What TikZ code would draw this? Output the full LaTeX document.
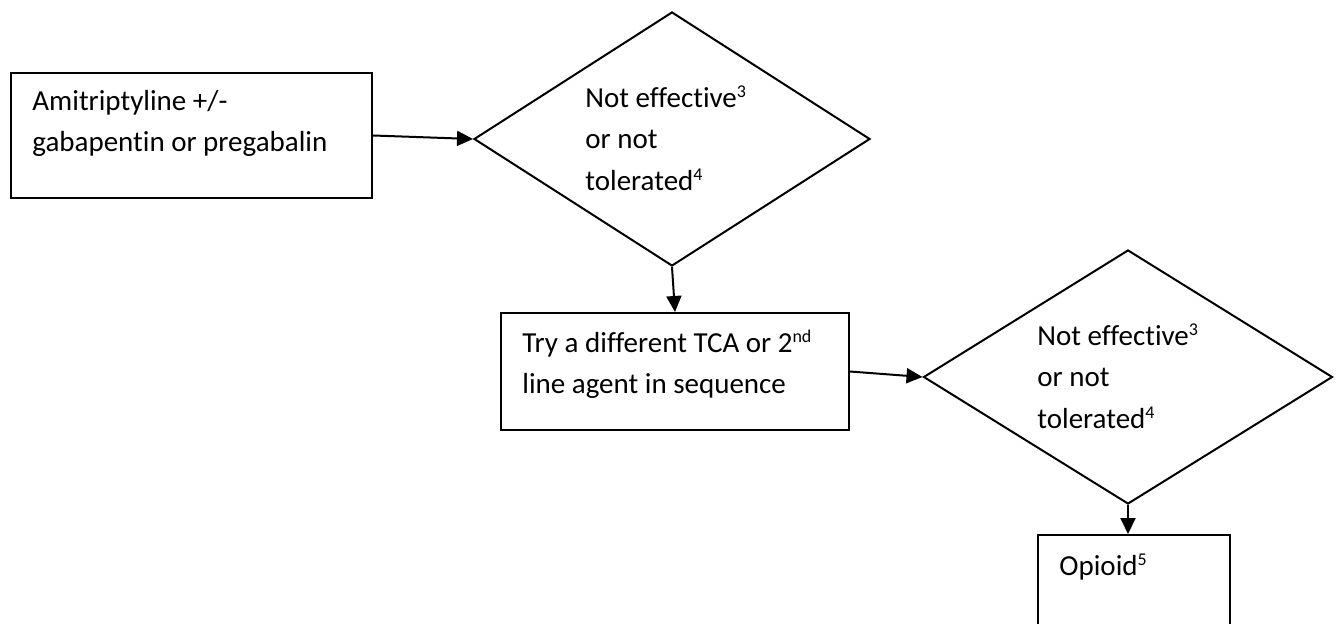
\documentclass[tikz,border=0pt]{standalone}
\usepackage{fontspec}
\setmainfont{Carlito}[Ligatures=NoCommon]
\usetikzlibrary{shapes.geometric,arrows.meta}
\newcommand\supnote[1]{\raisebox{5pt}{\fontsize{9}{9}\selectfont #1}}
\tikzset{
  stepbox/.style={draw, line width=1pt, inner sep=0pt},
  choice/.style={draw, diamond, line width=1pt, inner sep=0pt},
  txt/.style={anchor=north west, inner sep=0pt, align=left, font=\fontsize{14.5}{20.75}\selectfont},
  arr/.style={-{Triangle[length=8pt,width=7.5pt]}, line width=1pt}
}
\begin{document}
\begin{tikzpicture}[x=0.5pt, y=-0.5pt]
\useasboundingbox (0,0) rectangle (1337,624);
\clip (0,0) rectangle (1337,624);
% boxes and decisions
\node[stepbox, minimum width=180.5pt, minimum height=62.5pt] (amit) at (191.5,135.5) {};
\node[choice, minimum width=198pt, minimum height=127pt] (dec1) at (672,139) {};
\node[stepbox, minimum width=174pt, minimum height=58.5pt] (tryother) at (675,371.5) {};
\node[choice, minimum width=204.5pt, minimum height=127pt] (dec2) at (1128,377) {};
\node[stepbox, minimum width=96pt, minimum height=57.5pt] (opioid) at (1134,592.5) {};
% texts
\node[txt] (amittxt) at (32,80.6) {\strut Amitriptyline +/-\\gabapentin or pregabalin};
\node[txt] (dec1txt) at (585,77.6) {\strut Not effective\supnote{3}\\or not\\tolerated\supnote{4}};
\node[txt] (trytxt) at (522,322.6) {\strut Try a different TCA or 2\supnote{nd}\\line agent in sequence};
\node[txt] (dec2txt) at (1037,315.6) {\strut Not effective\supnote{3}\\or not\\tolerated\supnote{4}};
\node[txt] (opitxt) at (1059,545.6) {\strut Opioid\supnote{5}};
% arrows
\draw[arr] (amit.east) -- (dec1.west);
\draw[arr] (dec1.south) -- (tryother.north);
\draw[arr] (tryother.east) -- (dec2.west);
\draw[arr] (dec2.south) -- (dec2.south |- opioid.north);
\end{tikzpicture}
\end{document}
